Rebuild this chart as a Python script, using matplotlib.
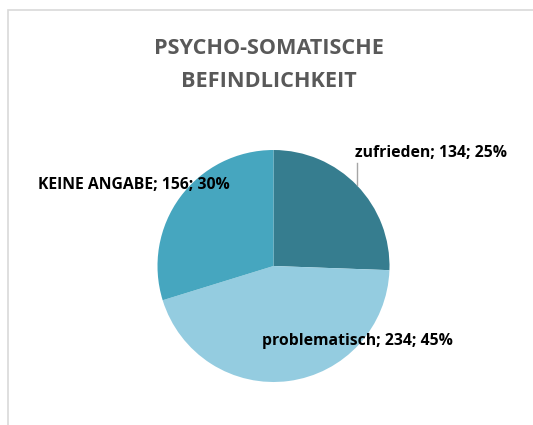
import matplotlib
matplotlib.use("Agg")
import matplotlib.pyplot as plt
from matplotlib.patches import Rectangle

categories = ["zufrieden", "problematisch", "KEINE ANGABE"]
values = [134, 234, 156]
percents = [25, 45, 30]
colors = ["#367d8f", "#94cce0", "#46a6bf"]
title = "PSYCHO-SOMATISCHE\nBEFINDLICHKEIT"

W, H = 533, 425
fig = plt.figure(figsize=(W / 100, H / 100), dpi=100)
fig.patch.set_facecolor("white")

# chart border
fig.add_artist(Rectangle((8 / W, -0.1), 1.2, 1 - 10 / H + 0.1, transform=fig.transFigure,
                         fill=False, edgecolor="#d9d9d9", linewidth=1.2))

cx, cy, r = 273.5, 266, 116
ax = fig.add_axes([(cx - r) / W, 1 - (cy + r) / H, 2 * r / W, 2 * r / H])

ax.pie(values, colors=colors, startangle=90, counterclock=False, radius=1,
       wedgeprops=dict(linewidth=0))
ax.set_xlim(-1, 1)
ax.set_ylim(-1, 1)
ax.set_aspect("equal")
ax.axis("off")

font = ["Open Sans", "DejaVu Sans"]
labels = [f"{c}; {v}; {p}%" for c, v, p in zip(categories, values, percents)]
label_pos = [(0.70, 0.974), (-0.10, -0.65), (-2.03, 0.70)]
for lab, (x, y) in zip(labels, label_pos):
    ax.text(x, y, lab, ha="left", va="center", fontsize=11.3, fontweight="bold",
            color="black", family=font, clip_on=False)

# leader line for zufrieden
ax.plot([0.72, 0.72], [0.694, 0.888], color="#a6a6a6", linewidth=1, clip_on=False)

fig.text(0.505, 1 - 65 / H, title, ha="center", va="center", fontsize=15.6,
         fontweight="bold", color="#595959", family=font, linespacing=1.7)

fig.savefig("out.png", dpi=100, facecolor="white")
